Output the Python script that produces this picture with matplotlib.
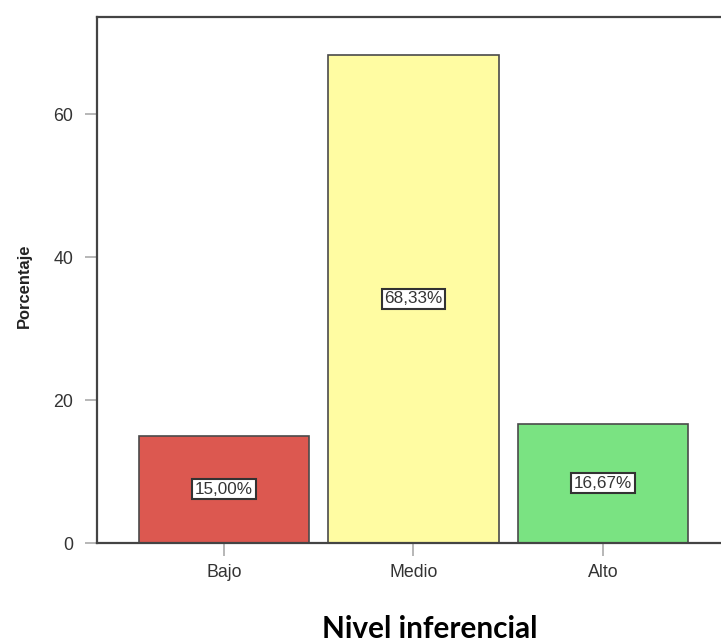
import matplotlib
matplotlib.use("Agg")
import matplotlib.pyplot as plt
from matplotlib import font_manager

categorias = ["Bajo", "Medio", "Alto"]
porcentajes = [15.00, 68.33, 16.67]
etiquetas = ["15,00%", "68,33%", "16,67%"]
colores = ["#dc5850", "#fffca2", "#7ae382"]

# fuente estrecha si existe (el grafico original esta estirado en vertical)
nombres = {f.name for f in font_manager.fontManager.ttflist}
if "Liberation Sans Narrow" in nombres:
    fuente, escala = "Liberation Sans Narrow", 1.0
else:
    fuente, escala = "Liberation Sans", 0.85

fig = plt.figure(figsize=(7.21, 6.43), dpi=100)
ax = fig.add_axes([97 / 721, 1 - 543 / 643, 1 - 97 / 721, (543 - 17) / 643])

pos = list(range(len(categorias)))
ax.bar(pos, porcentajes, width=0.9, color=colores, edgecolor="#4a4a4a", linewidth=1.2, zorder=2)

# etiquetas en el centro de cada barra
for x, v, t in zip(pos, porcentajes, etiquetas):
    ax.text(x, v / 2, t, ha="center", va="center", fontsize=14.5 * escala, family=fuente,
            color="#333333",
            bbox=dict(boxstyle="square,pad=0.15", facecolor="white", edgecolor="#333333", linewidth=1.5),
            zorder=3)

ax.set_xlim(-0.67, 2.623)
ax.set_ylim(0, 73.6)
ax.set_xticks(pos)
ax.set_xticklabels(categorias, family=fuente, fontsize=15 * escala, color="#333333")
ax.set_yticks([0, 20, 40, 60])
ax.set_yticklabels(["0", "20", "40", "60"], family=fuente, fontsize=15 * escala, color="#333333")
ax.tick_params(axis="both", length=9, width=1.2, color="#aaaaaa")
ax.tick_params(axis="y", pad=8)
ax.tick_params(axis="x", pad=6)

for lado in ["left", "bottom", "top"]:
    ax.spines[lado].set_color("#444444")
    ax.spines[lado].set_linewidth(1.6)
ax.spines["right"].set_visible(False)

ax.set_ylabel("Porcentaje", family=fuente, fontsize=14 * escala, fontweight="bold", color="#222222")
ax.yaxis.set_label_coords(-0.104, 0.49)

fig.text(430 / 721, 1 - 629 / 643, "Nivel inferencial", ha="center", va="center",
         family="Lato", fontweight="bold", fontsize=21.4, color="black")

fig.savefig("out.png", dpi=100)
